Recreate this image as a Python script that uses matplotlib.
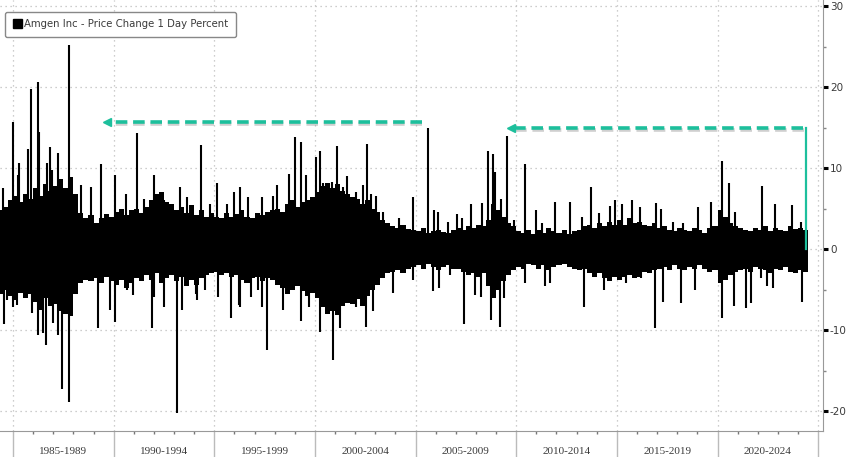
import matplotlib.pyplot as plt
import matplotlib.patheffects as pe
from matplotlib.patches import Patch
import numpy as np

plt.rcParams['axes.unicode_minus'] = False

# quarterly envelope of the dense daily band (Q2 1984 .. Q2 2024), percent
band_upper = [
    4.8, 5.2, 6.0,            # 1984
    6.5, 5.8, 6.8, 6.2,       # 1985
    7.5, 6.5, 8.0, 7.2,       # 1986
    7.8, 8.6, 7.5, 8.9,       # 1987
    6.8, 4.4, 3.8, 4.2,       # 1988
    3.2, 3.8, 4.3, 4.0,       # 1989
    4.6, 5.0, 4.2, 4.8,       # 1990
    5.0, 4.4, 5.2, 6.0,       # 1991
    6.8, 7.0, 5.8, 5.5,       # 1992
    4.8, 5.2, 4.4, 5.4,       # 1993
    4.2, 4.8, 4.0, 4.5,       # 1994
    4.0, 3.8, 4.4, 4.0,       # 1995
    4.3, 4.8, 4.0, 3.8,       # 1996
    4.5, 4.2, 4.6, 4.8,       # 1997
    5.0, 4.6, 5.6, 6.0,       # 1998
    5.2, 5.8, 6.0, 6.4,       # 1999
    7.0, 7.8, 8.2, 7.5,       # 2000
    8.0, 7.2, 6.8, 6.4,       # 2001
    6.2, 5.6, 6.0, 5.0,       # 2002
    4.6, 3.6, 3.2, 2.8,       # 2003
    2.6, 3.0, 2.5, 2.4,       # 2004
    2.2, 2.6, 2.0, 2.2,       # 2005
    2.4, 2.1, 2.0, 2.3,       # 2006
    2.6, 2.4, 2.8, 2.6,       # 2007
    3.0, 2.8, 3.6, 5.5,       # 2008
    4.8, 4.0, 3.2, 2.8,       # 2009
    2.2, 2.0, 2.3, 1.9,       # 2010
    2.4, 2.0, 2.6, 2.2,       # 2011
    2.0, 2.3, 1.8, 2.2,       # 2012
    2.4, 2.8, 3.0, 2.6,       # 2013
    3.2, 2.8, 3.4, 3.0,       # 2014
    3.6, 3.0, 3.8, 3.2,       # 2015
    3.4, 3.0, 2.8, 3.2,       # 2016
    2.6, 2.8, 2.4, 2.2,       # 2017
    2.6, 2.4, 2.2, 2.6,       # 2018
    2.4, 2.0, 2.6, 2.8,       # 2019
    4.8, 4.0, 3.2, 2.8,       # 2020
    2.6, 2.4, 2.2, 2.6,       # 2021
    2.4, 2.8, 2.2, 2.6,       # 2022
    2.4, 2.2, 2.8, 2.5,       # 2023
    2.6, 2.4,                 # 2024
]
band_lower = [
    -5.5, -5.0, -5.8,
    -6.3, -5.4, -6.0, -5.5,
    -6.5, -7.5, -6.0, -7.0,
    -6.8, -7.6, -8.0, -8.3,
    -5.6, -4.2, -3.8, -4.0,
    -3.6, -4.2, -3.5, -4.0,
    -4.4, -3.8, -4.8, -4.2,
    -3.6, -4.0, -3.2, -3.8,
    -3.0, -4.2, -3.6, -3.2,
    -4.0, -3.4, -4.6, -3.8,
    -4.4, -3.6, -3.2, -3.0,
    -2.8, -3.2, -3.0, -3.4,
    -3.2, -3.8, -4.2, -3.6,
    -3.4, -4.0, -3.6, -3.8,
    -4.4, -4.8, -5.6, -5.0,
    -4.6, -5.2, -5.8, -5.4,
    -6.0, -7.2, -8.0, -7.6,
    -8.2, -7.0, -6.6, -6.8,
    -6.2, -7.0, -5.8, -5.0,
    -4.4, -3.6, -3.0, -2.8,
    -2.6, -3.0, -2.4, -2.2,
    -2.0, -2.4, -1.9, -2.2,
    -2.6, -2.2, -2.0, -2.4,
    -2.4, -2.8, -3.2, -3.0,
    -3.4, -3.0, -4.5, -6.0,
    -5.0, -4.0, -3.2, -2.6,
    -2.2, -2.4, -1.8, -2.0,
    -2.4, -2.0, -2.6, -2.2,
    -2.0, -1.8, -2.2, -2.4,
    -2.6, -2.4, -3.0, -3.4,
    -3.0, -3.6, -4.0, -3.4,
    -3.8, -3.4, -3.2, -3.6,
    -3.4, -2.8, -3.0, -2.6,
    -2.4, -2.2, -2.6, -2.0,
    -2.4, -2.6, -2.2, -2.4,
    -2.0, -2.4, -2.8, -2.6,
    -4.2, -3.8, -3.2, -2.8,
    -2.6, -2.4, -2.8, -2.2,
    -2.4, -2.6, -3.0, -2.4,
    -2.6, -2.2, -2.8, -3.0,
    -2.6, -2.8,
]

# single-day moves that stick out of the band (decimal year, percent)
up_dates = [1984.52, 1985.01, 1985.26, 1985.31, 1985.76, 1985.88, 1986.23, 1986.31,
            1986.68, 1986.83, 1986.93, 1987.26, 1987.79, 1988.39, 1988.87, 1989.38,
            1990.08, 1990.63, 1991.16, 1991.49, 1991.99, 1992.49, 1993.32, 1993.65,
            1994.33, 1994.81, 1995.14, 1995.61, 1995.99, 1996.30, 1996.65, 1997.37,
            1997.90, 1998.13, 1998.71, 1998.99, 1999.33, 1999.58, 2000.04, 2000.25,
            2000.39, 2000.85, 2001.12, 2001.38, 2001.60, 2002.02, 2002.38, 2002.61,
            2002.79, 2003.04, 2003.38, 2004.16, 2004.89, 2005.60, 2005.93, 2006.13,
            2006.60, 2007.06, 2007.33, 2007.76, 2008.31, 2008.62, 2008.87, 2008.95,
            2009.25, 2009.55, 2009.90, 2010.46, 2011.00, 2011.28, 2011.94, 2012.65,
            2013.27, 2013.70, 2014.10, 2014.65, 2014.90, 2015.26, 2015.73, 2016.14,
            2016.92, 2017.19, 2017.77, 2018.27, 2019.05, 2019.68, 2020.24, 2020.57,
            2020.87, 2022.20, 2022.86, 2023.69, 2024.16]
up_vals = [7.5, 15.7, 9.1, 10.6, 12.4, 19.8, 20.6, 14.4,
           10.6, 12.6, 9.7, 11.8, 25.2, 7.9, 7.7, 10.5,
           9.1, 6.8, 14.3, 6.2, 9.1, 6.0, 7.7, 6.4,
           12.8, 5.6, 8.1, 5.6, 7.0, 7.7, 6.4, 6.4,
           6.6, 7.9, 9.3, 13.8, 13.2, 9.1, 11.4, 12.1,
           8.1, 8.3, 12.7, 7.7, 9.0, 7.0, 7.9, 13.0,
           6.8, 6.6, 4.6, 3.8, 6.4, 15.0, 4.8, 4.6,
           3.4, 4.3, 3.8, 5.5, 5.7, 12.1, 11.7, 9.5,
           6.2, 13.9, 3.6, 10.5, 4.8, 3.2, 5.8, 5.8,
           4.0, 7.7, 4.4, 5.3, 6.0, 5.6, 6.0, 5.2,
           5.7, 4.9, 3.4, 3.2, 5.2, 5.8, 10.9, 8.2,
           4.6, 7.8, 5.6, 5.4, 3.4]

down_dates = [1984.55, 1984.69, 1985.01, 1985.18, 1985.93, 1986.26, 1986.48, 1986.64,
              1987.01, 1987.26, 1987.43, 1987.79, 1989.20, 1989.83, 1990.08, 1990.66,
              1990.96, 1991.91, 1991.99, 1992.49, 1993.15, 1993.40, 1994.08, 1994.15,
              1994.56, 1995.16, 1995.81, 1996.24, 1996.30, 1996.82, 1997.15, 1997.39,
              1997.63, 1998.43, 1999.29, 1999.73, 2000.24, 2000.90, 2001.25, 2002.03,
              2002.56, 2002.86, 2003.86, 2004.86, 2005.85, 2006.17, 2006.71, 2007.40,
              2007.96, 2008.26, 2008.75, 2009.17, 2009.37, 2010.45, 2011.41, 2011.69,
              2013.37, 2014.37, 2015.43, 2016.19, 2016.89, 2017.27, 2018.17, 2018.88,
              2020.24, 2020.82, 2021.40, 2021.67, 2022.17, 2022.45, 2022.78, 2024.19]
down_vals = [-9.3, -6.3, -7.1, -6.9, -7.9, -10.6, -10.4, -11.8,
             -9.1, -10.6, -17.3, -18.9, -9.8, -7.5, -9.0, -5.0,
             -5.7, -9.7, -5.9, -7.1, -20.2, -7.5, -5.5, -6.3,
             -5.0, -5.9, -8.5, -6.9, -7.1, -5.9, -5.0, -7.1,
             -12.4, -7.5, -8.9, -7.1, -10.2, -13.7, -9.8, -7.1,
             -9.6, -7.7, -5.4, -3.8, -5.2, -4.8, -3.2, -9.3,
             -5.7, -5.9, -8.7, -9.6, -6.1, -4.2, -4.6, -4.2,
             -7.1, -5.0, -4.2, -3.6, -9.8, -6.5, -6.7, -5.0,
             -8.5, -7.0, -7.3, -6.7, -3.6, -4.6, -4.8, -6.5]

period_labels = ['1985-1989', '1990-1994', '1995-1999', '2000-2004',
                 '2005-2009', '2010-2014', '2015-2019', '2020-2024']

quarters = 1984.375 + 0.25 * np.arange(len(band_upper))
teal = '#1dbf9c'
grey_txt = '#3a3a3a'

fig = plt.figure(figsize=(8.48, 4.57), dpi=100)
ax = fig.add_axes([0.0, 0.057, 0.9705, 0.943])

lo = np.array(band_lower)
hi = np.array(band_upper)
ax.bar(quarters, hi - lo, bottom=lo, width=0.25, color='black', linewidth=0, zorder=3)
ax.vlines(up_dates, 0, up_vals, color='black', lw=1.5, zorder=3)
ax.vlines(down_dates, 0, down_vals, color='black', lw=1.5, zorder=3)

ax.set_xlim(1984.354, 2025.24)
ax.set_ylim(-22.45, 30.74)

# right-hand y axis
ax.yaxis.tick_right()
ax.set_yticks([-20, -10, 0, 10, 20, 30])
ax.set_yticks([-15, -5, 5, 15, 25], minor=True)
ax.tick_params(axis='y', which='major', length=3.5, width=2.2, color='black',
               labelsize=7.5, labelcolor=grey_txt, pad=1.5)
ax.tick_params(axis='y', which='minor', length=2, width=1, color='#888888')

# bottom axis: 5-year separators, yearly minor ticks, period labels
ax.set_xticks(np.arange(1985, 2026, 5))
ax.set_xticklabels([])
ax.set_xticks(np.arange(1985, 2025, 1), minor=True)
ax.tick_params(axis='x', which='major', length=19, width=1, color='#bbbbbb', direction='out')
ax.tick_params(axis='x', which='minor', length=2.5, width=1, color='#777777', direction='out')
for i, lab in enumerate(period_labels):
    ax.text(1987.5 + 5 * i, -0.047, lab, transform=ax.get_xaxis_transform(),
            ha='center', va='center', fontsize=8, family='Liberation Serif', color=grey_txt)

ax.grid(True, which='major', linestyle=(0, (1, 3)), color='#bdbdbd', lw=0.9, zorder=0)

for s in ['top', 'left']:
    ax.spines[s].set_visible(False)
ax.spines['right'].set_color('#999999')
ax.spines['bottom'].set_color('#999999')

# teal arrows and marker line
shadow = [pe.SimpleLineShadow(offset=(0.5, -1.5), shadow_color='#888888', alpha=0.4), pe.Normal()]
ax.plot([2005.3, 1989.9], [15.7, 15.7], color=teal, lw=2.6, ls=(0, (3.2, 1.6)),
        path_effects=shadow, zorder=5)
ax.plot([1989.65], [15.7], marker='<', ms=6, color=teal, zorder=5)
ax.plot([2024.25, 2010.0], [14.9, 14.9], color=teal, lw=2.6, ls=(0, (3.2, 1.6)),
        path_effects=shadow, zorder=5)
ax.plot([2009.75], [14.9], marker='<', ms=6, color=teal, zorder=5)
ax.plot([2024.4, 2024.4], [14.9, 0.0], color=teal, lw=1.6, zorder=5)

leg = ax.legend(handles=[Patch(facecolor='black', edgecolor='black')],
                labels=['Amgen Inc - Price Change 1 Day Percent'],
                loc='upper left', bbox_to_anchor=(0.0, 0.985), fontsize=7.3,
                handlelength=0.9, handleheight=0.9, handletextpad=0.2,
                borderpad=0.75, fancybox=True, framealpha=1, labelcolor=grey_txt)
leg.get_frame().set_edgecolor('#888888')
leg.get_frame().set_linewidth(1.0)
leg.set_zorder(6)

fig.savefig('out.png', dpi=100)
